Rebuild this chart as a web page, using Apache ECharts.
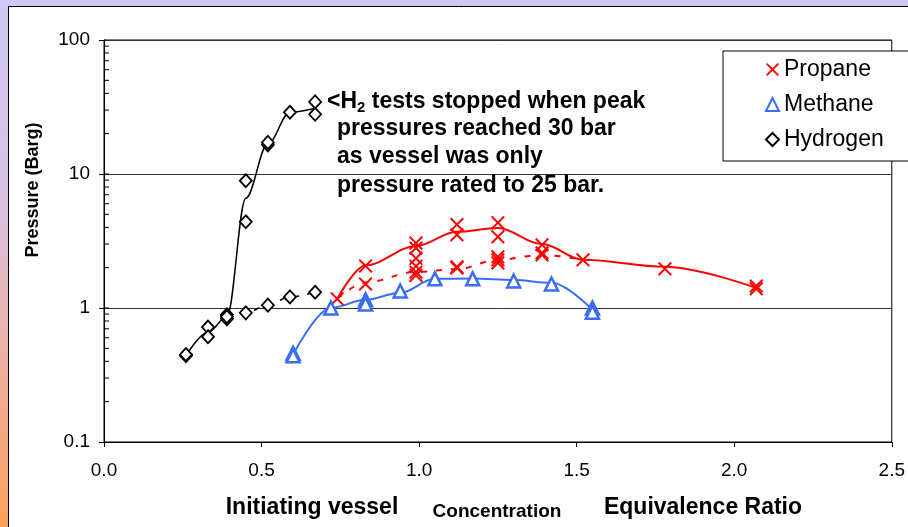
<!DOCTYPE html>
<html>
<head>
<meta charset="utf-8">
<script src="https://cdn.jsdelivr.net/npm/echarts@6/dist/echarts.min.js"></script>
<style>
  html, body { margin: 0; padding: 0; }
  body {
    width: 908px; height: 527px; overflow: hidden;
    background: linear-gradient(to bottom, #cfc9f5 0%, #d8c3e6 35%, #eeae9e 70%, #fba259 100%);
  }
  #chart { width: 908px; height: 527px; }
</style>
</head>
<body>
<div id="chart"></div>
<script>
// measured points (x = equivalence ratio / concentration, y = peak pressure barg)
const propanePts = [
  [0.74, 1.17],
  [0.83, 2.06], [0.83, 1.51],
  [0.99, 3.05], [0.99, 2.8], [0.99, 2.35], [0.99, 2.05], [0.99, 1.85], [0.99, 1.75],
  [1.12, 4.19], [1.12, 3.52], [1.12, 2.03], [1.12, 1.99],
  [1.25, 4.33], [1.25, 3.4], [1.25, 2.41], [1.25, 2.29], [1.25, 2.17],
  [1.39, 2.96], [1.39, 2.58], [1.39, 2.49],
  [1.52, 2.29],
  [1.78, 1.96],
  [2.07, 1.39], [2.07, 1.46]
];
const methanePts = [
  [0.60, 0.46], [0.60, 0.44],
  [0.72, 1.0],
  [0.83, 1.15], [0.83, 1.07],
  [0.94, 1.34],
  [1.05, 1.65],
  [1.17, 1.65],
  [1.30, 1.59],
  [1.42, 1.51],
  [1.55, 1.0], [1.55, 0.93]
];
const hydrogenPts = [
  [0.26, 0.44], [0.26, 0.45],
  [0.33, 0.72], [0.33, 0.61],
  [0.39, 0.89], [0.39, 0.83], [0.39, 0.86],
  [0.45, 0.92], [0.52, 1.05], [0.59, 1.21], [0.67, 1.31],
  [0.45, 4.4], [0.45, 8.9], [0.52, 16.5], [0.52, 17.2], [0.59, 28.9], [0.67, 34.5], [0.67, 27.9]
];

// trend lines drawn through the points
const propaneUpper = [[0.74, 1.17], [0.83, 2.08], [0.99, 2.9], [1.12, 3.7], [1.25, 3.95], [1.39, 3.0], [1.52, 2.29], [1.78, 2.03], [2.07, 1.41]];
const propaneLower = [[0.74, 1.17], [0.83, 1.55], [0.99, 1.86], [1.12, 1.95], [1.25, 2.29], [1.39, 2.49], [1.52, 2.29]];
const methaneLine = [[0.60, 0.45], [0.72, 1.0], [0.83, 1.15], [0.94, 1.3], [1.05, 1.65], [1.17, 1.66], [1.30, 1.62], [1.42, 1.54], [1.55, 0.97]];
const hydrogenUpper = [[0.26, 0.44], [0.33, 0.66], [0.39, 0.86], [0.45, 6.6], [0.52, 16.8], [0.59, 28.9], [0.67, 31]];
const hydrogenLower = [[0.39, 0.86], [0.45, 0.92], [0.52, 1.05], [0.59, 1.21], [0.67, 1.31]];

// log axis minor ticks (drawn inside the axis)
const minorTicks = [0.2, 0.3, 0.4, 0.5, 0.6, 0.7, 0.8, 0.9, 1, 2, 3, 4, 5, 6, 7, 8, 9, 10, 20, 30, 40, 50, 60, 70, 80, 90];

const seriesNames = ['Propane', 'Methane', 'Hydrogen'];
const noteLines = ['pressures reached 30 bar', 'as vessel was only', 'pressure rated to 25 bar.'];

const RED = '#ff0000';
const BLUE = '#3a6cf4';
const FONT = 'Liberation Sans';
const crossPath = 'path://M1,0 L5,4 L9,0 L10,1 L6,5 L10,9 L9,10 L5,6 L1,10 L0,9 L4,5 L0,1 Z';

const chart = echarts.init(document.getElementById('chart'));

const lineSeries = (data, color, width, type) => ({
  type: 'line',
  data: data,
  smooth: 0.35,
  smoothMonotone: 'x',
  symbol: 'none',
  silent: true,
  z: 2,
  lineStyle: { color: color, width: width, type: type }
});

const option = {
  animation: false,
  textStyle: { fontFamily: FONT },
  grid: {
    left: 104, right: 15, top: 40, bottom: 85,
    show: true, borderColor: '#000', borderWidth: 1
  },
  legend: {
    data: seriesNames,
    orient: 'vertical',
    left: 723, top: 51,
    padding: [7, 30, 10, 42],
    itemGap: 12,
    itemWidth: 13, itemHeight: 13,
    borderColor: '#000', borderWidth: 1,
    backgroundColor: '#fff',
    textStyle: { fontSize: 23, color: '#000', fontFamily: FONT }
  },
  xAxis: {
    type: 'value',
    min: 0, max: 2.5, interval: 0.5,
    axisLine: { lineStyle: { color: '#000', width: 1 } },
    axisTick: { show: true, length: 5, lineStyle: { color: '#000' } },
    axisLabel: {
      color: '#000', fontSize: 19, margin: 19,
      formatter: v => v.toFixed(1)
    },
    splitLine: { show: false }
  },
  yAxis: {
    type: 'log',
    logBase: 10,
    min: 0.1, max: 100,
    axisLine: { show: true, lineStyle: { color: '#000', width: 1 } },
    axisTick: { show: true, length: 5, lineStyle: { color: '#000' } },
    axisLabel: { color: '#000', fontSize: 19, margin: 14 },
    splitLine: { show: true, lineStyle: { color: '#333', width: 1 } }
  },
  graphic: [
    {
      type: 'rect', z: -100, silent: true,
      shape: { x: 8.5, y: 6.5, width: 910, height: 530 },
      style: { fill: '#fff', stroke: '#000', lineWidth: 1 }
    },
    {
      type: 'text', left: 327, top: 88, z: 10,
      style: {
        text: '{a|<H}{s|2}{a| tests stopped when peak}',
        rich: {
          a: { fontSize: 23, fontWeight: 'bold', fontFamily: FONT, fill: '#000', lineHeight: 24 },
          s: { fontSize: 15, fontWeight: 'bold', fontFamily: FONT, fill: '#000', lineHeight: 24, padding: [12, 0, 0, 0] }
        }
      }
    },
    {
      type: 'text', left: 337, top: 114, z: 10,
      style: {
        text: noteLines.join('\n'),
        font: 'bold 23px "Liberation Sans"',
        lineHeight: 28.5,
        fill: '#000'
      }
    },
    {
      type: 'text', x: 312, y: 508, z: 10,
      style: { text: 'Initiating vessel', font: 'bold 23px "Liberation Sans"', fill: '#000', align: 'center', verticalAlign: 'middle' }
    },
    {
      type: 'text', x: 497, y: 512, z: 10,
      style: { text: 'Concentration', font: 'bold 19px "Liberation Sans"', fill: '#000', align: 'center', verticalAlign: 'middle' }
    },
    {
      type: 'text', x: 703, y: 508, z: 10,
      style: { text: 'Equivalence Ratio', font: 'bold 23px "Liberation Sans"', fill: '#000', align: 'center', verticalAlign: 'middle' }
    },
    {
      type: 'text', x: 33, y: 190, rotation: Math.PI / 2, z: 10,
      style: { text: 'Pressure (Barg)', font: 'bold 18px "Liberation Sans"', fill: '#000', align: 'center', verticalAlign: 'middle' }
    }
  ],
  series: [
    lineSeries(propaneUpper, RED, 2, 'solid'),
    lineSeries(propaneLower, RED, 2, [6, 9]),
    lineSeries(methaneLine, BLUE, 2, 'solid'),
    lineSeries(hydrogenUpper, '#000', 1.5, 'solid'),
    lineSeries(hydrogenLower, '#000', 1.5, [6, 8]),
    {
      name: 'Propane', type: 'scatter', data: propanePts,
      symbol: crossPath, symbolSize: 14, z: 4,
      itemStyle: { color: RED, opacity: 1 }
    },
    {
      name: 'Methane', type: 'scatter', data: methanePts,
      symbol: 'triangle', symbolSize: 13, z: 4,
      itemStyle: { color: '#fff', borderColor: BLUE, borderWidth: 2.5, opacity: 1 }
    },
    {
      name: 'Hydrogen', type: 'scatter', data: hydrogenPts,
      symbol: 'diamond', symbolSize: [12, 13], z: 4,
      itemStyle: { color: '#fff', borderColor: '#000', borderWidth: 1.8, opacity: 1 }
    },
    {
      type: 'custom', silent: true, clip: false, z: 5,
      data: minorTicks.map(v => [0, v]),
      renderItem: function (params, api) {
        const p = api.coord([0, api.value(1)]);
        return {
          type: 'line',
          shape: { x1: p[0], y1: p[1], x2: p[0] + 5, y2: p[1] },
          style: { stroke: '#000', lineWidth: 1 }
        };
      }
    }
  ]
};

chart.setOption(option);
</script>
</body>
</html>
